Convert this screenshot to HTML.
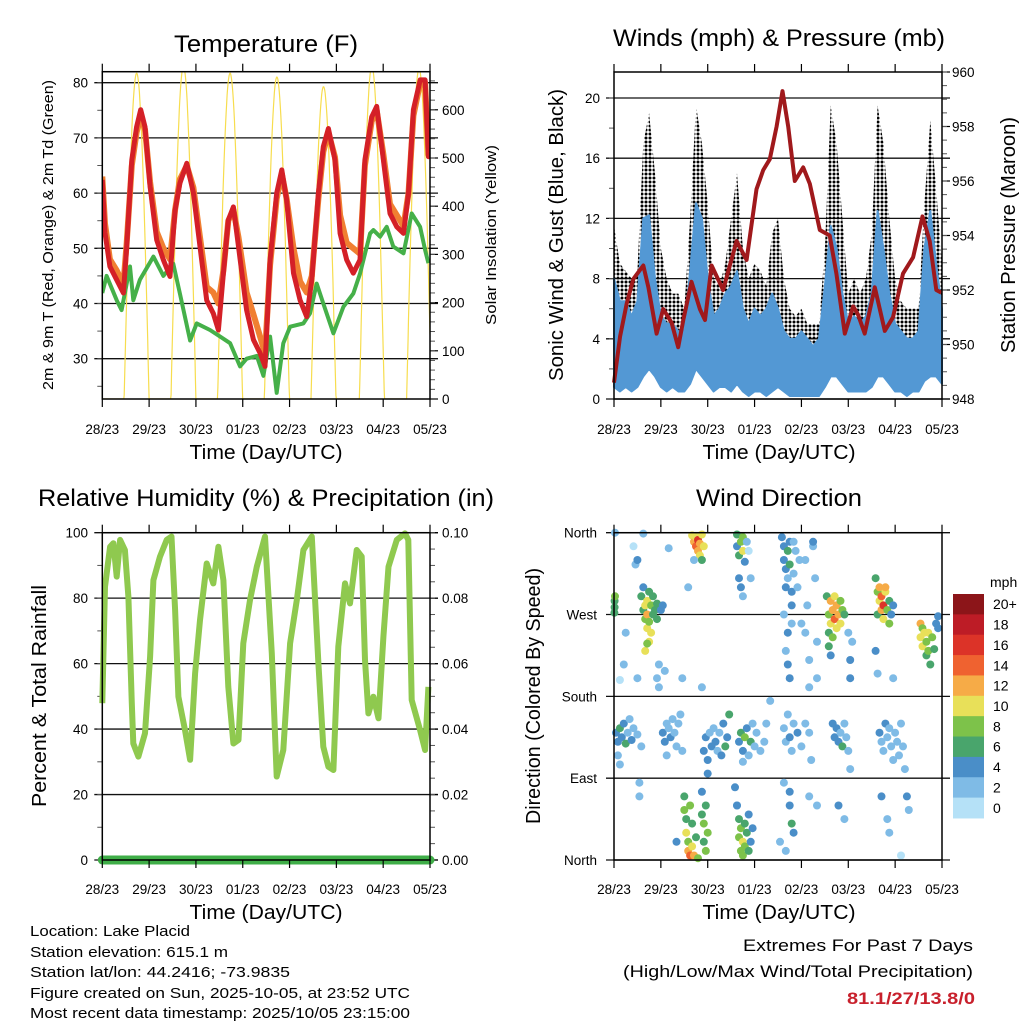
<!DOCTYPE html>
<html><head><meta charset="utf-8"><style>
html,body{margin:0;padding:0;background:#fff;}
svg{display:block;font-family:"Liberation Sans",sans-serif;}
</style></head><body>
<svg id="chart" width="1024" height="1024" viewBox="0 0 1024 1024" xmlns="http://www.w3.org/2000/svg">
<defs>
<pattern id="dots" width="4" height="4" patternUnits="userSpaceOnUse"><circle cx="2" cy="2" r="1.5" fill="#000"/></pattern>
</defs>
<rect x="0" y="0" width="1024" height="1024" fill="#fff"/>
<g font-size="24" text-anchor="middle">
<text x="266" y="52" textLength="184" lengthAdjust="spacingAndGlyphs">Temperature (F)</text>
<text x="779" y="46" textLength="332" lengthAdjust="spacingAndGlyphs">Winds (mph) &amp; Pressure (mb)</text>
<text x="266" y="506" textLength="456" lengthAdjust="spacingAndGlyphs">Relative Humidity (%) &amp; Precipitation (in)</text>
<text x="779" y="506" textLength="166" lengthAdjust="spacingAndGlyphs">Wind Direction</text>
</g>
<g font-size="20" text-anchor="middle">
<text x="266" y="459" textLength="153" lengthAdjust="spacingAndGlyphs">Time (Day/UTC)</text>
<text x="779" y="459" textLength="153" lengthAdjust="spacingAndGlyphs">Time (Day/UTC)</text>
<text x="266" y="919" textLength="153" lengthAdjust="spacingAndGlyphs">Time (Day/UTC)</text>
<text x="779" y="919" textLength="153" lengthAdjust="spacingAndGlyphs">Time (Day/UTC)</text>
<text transform="translate(563,235) rotate(-90)" textLength="292" lengthAdjust="spacingAndGlyphs">Sonic Wind &amp; Gust (Blue, Black)</text>
<text transform="translate(1015,235) rotate(-90)" textLength="236" lengthAdjust="spacingAndGlyphs">Station Pressure (Maroon)</text>
<text transform="translate(46,696) rotate(-90)" textLength="222" lengthAdjust="spacingAndGlyphs">Percent &amp; Total Rainfall</text>
<text transform="translate(540,696) rotate(-90)" textLength="256" lengthAdjust="spacingAndGlyphs">Direction (Colored By Speed)</text>
</g>
<g font-size="15" text-anchor="middle">
<text transform="translate(53,235) rotate(-90)" textLength="310" lengthAdjust="spacingAndGlyphs">2m &amp; 9m T (Red, Orange) &amp; 2m Td (Green)</text>
<text transform="translate(496,235) rotate(-90)" textLength="180" lengthAdjust="spacingAndGlyphs">Solar Insolation (Yellow)</text>
</g>
<g font-size="15">
<text x="30" y="936" textLength="160" lengthAdjust="spacingAndGlyphs">Location: Lake Placid</text>
<text x="30" y="957" textLength="198" lengthAdjust="spacingAndGlyphs">Station elevation: 615.1 m</text>
<text x="30" y="977" textLength="260" lengthAdjust="spacingAndGlyphs">Station lat/lon: 44.2416; -73.9835</text>
<text x="30" y="998" textLength="380" lengthAdjust="spacingAndGlyphs">Figure created on Sun, 2025-10-05, at 23:52 UTC</text>
<text x="30" y="1018" textLength="380" lengthAdjust="spacingAndGlyphs">Most recent data timestamp: 2025/10/05 23:15:00</text>
</g>
<g font-size="17" text-anchor="end">
<text x="973" y="951" textLength="230" lengthAdjust="spacingAndGlyphs">Extremes For Past 7 Days</text>
<text x="973" y="977" textLength="350" lengthAdjust="spacingAndGlyphs">(High/Low/Max Wind/Total Precipitation)</text>
<text x="975" y="1004" fill="#c8202c" font-weight="bold" textLength="128" lengthAdjust="spacingAndGlyphs">81.1/27/13.8/0</text>
</g>
</svg>
<script>
// ---------- data ----------
const dayLabels=['28/23','29/23','30/23','01/23','02/23','03/23','04/23','05/23'];
const tempHours=[0,1.4,3.9,7.4,10.8,12.5,15.1,17.6,19.7,21.9,24.5,27.9,31.3,34.7,37.3,39.8,43.3,46.7,50.1,53.5,56.9,59.5,62.1,64.6,67.2,69.8,74,77.5,80.9,83.4,86,89.4,92,94.5,98,101.4,104.8,107.4,110.8,113.3,115.9,119.3,121.9,125.3,128.7,132.1,134.6,138.1,140.7,144.1,147.5,151,154.4,157,159.5,163,165.5,167.2,168];
const temp2m=[62.4,52.8,46.7,44.3,41.9,50.3,66,72,75.1,72,61.2,51.5,47.9,44.9,56.9,61.8,65.4,60,50.3,40.6,38.2,35.2,45.5,55.1,57.5,50.3,38.8,33.4,31,28.6,47.9,60,64.2,58.8,45.5,40.6,37.6,44.3,60,68.4,71.7,66,52.7,47.9,45.5,47.9,66,73.8,75.7,66,56.3,53.9,52.7,60,75.1,80.5,80.5,66.6,67];
const temp9m=[63,54.5,48,46,43.5,51,65,71,74,71.5,62,53,50,48,57,62.5,65,61,52,43,42,40,46,55,57,52,42,38,34,31,47,59,63.5,59,50,44,42,45,59,67.5,71,66.5,56,51,50,49,65,73,75,67,58,56,54,60,74,80,80,67,68];
const dewHours=[0,2.2,7.4,9.9,14.2,15.9,19.3,26.2,31.3,36.4,39.8,45,48.4,55.2,60.4,65.5,70.6,74,79.2,82.6,86,89.4,92.8,96.3,103.1,106.5,109.9,113.3,118.5,123.6,128.7,132.1,137.3,139,142.4,145.8,149.2,154.4,158.6,162.9,165.5,167.2];
const dewPoint=[41.9,45,40.6,38.8,46.7,40.6,44.3,48.5,45,47.2,41.8,33.3,36.4,35.2,34,32.8,28.6,30,30.5,26.9,34,23.8,32.8,35.8,36.4,38.2,43.6,40,34.6,39.4,41.8,45.4,52.7,53.3,52.1,53.9,50.3,49.1,56.3,53.9,49.7,47.3];
const solarPeakHour=[17.6,41.6,65.5,89.5,113.4,138.2,162.4];
const solarPeak=[676,690,676,668,648,690,685];
const windHours=[0,3,6,9,12,15,18,21,24,27,30,33,36,39,42,45,48,51,54,57,60,63,66,69,72,75,78,81,84,87,90,93,96,99,102,105,108,111,114,117,120,123,126,129,132,135,138,141,144,147,150,153,156,159,162,165,168];
const gustMax=[11.5,9,8.5,8,8.5,17,19,15,10,8,7,7,6,12,19.5,17,13,8,7.5,9,12,15,10,8,9,8.5,7.5,11,12,8,6,5.5,6,5,5,5,10,19.5,17,12,7,8,7,8,11,19.5,17,12,8,6.5,6,6,6,13,18.5,14,9];
const windMax=[8,6.5,6.5,5.5,6.5,12,12.2,8,5.5,5,5,4.5,4.5,8.5,13,12,8,5.5,6,7,7.5,8.5,6,5,6,5.5,6,7,6,4.5,4,4,4.5,4,3.5,4,7.5,11.5,10,7,5,5.5,5,5.5,7,12.5,10,7,5,4.5,4,4,4.5,10,12.5,9,6];
const windMin=[0.8,0.5,0.8,0.5,0.8,1.5,2,1.5,0.8,0.5,0.8,0.5,0.5,1,2,1.5,1,0.5,0.8,0.8,0.5,1,0.5,0.2,0.5,0.5,0.2,0.5,0.8,0.5,0.2,0.2,0.2,0.2,0.2,0.2,0.8,1.5,1.5,1,0.5,0.5,0.5,0.5,0.8,1.5,1.5,1,0.5,0.5,0.2,0.5,0.5,1.2,1.5,1.5,1];
const presHours=[0,3.1,6.5,9.9,15,17.6,21.8,25.2,29.5,32.9,35.5,39.7,44,46.6,50,55.9,62.8,67.9,73,76.4,79.8,83.3,86.3,89.2,92.6,96.9,100.3,105.4,110.5,113.9,118.2,122.5,125,128.4,133.6,138.7,142.9,148,153.2,158,161.7,165.1,167.7];
const pressure=[948.6,950.3,951.5,952.4,952.9,952.1,950.4,951.3,950.8,949.9,950.9,952.3,951.3,950.9,952.9,952,953.8,953.1,955.7,956.4,956.8,958,959.3,958,956,956.5,955.9,954.2,954,952.6,950.4,951.4,951.1,950.4,952.1,950.5,951,952.6,953.2,954.7,953.8,952,951.9];
const rhHours=[0,1.4,4,5.7,7.4,9.1,11.6,13.4,15.1,15.9,18.5,21.9,24.5,26.2,29.6,33,35.5,37.3,39,42.4,45,47.6,50.1,53.5,56.9,59.5,62.1,64.6,67.2,69.8,72.3,75.7,79.2,83.4,86.9,89.4,92.8,96.3,99.7,103.1,107.4,110.8,113.3,115.9,118.5,121,124.4,127,130.4,133,134.7,136.4,139,141.6,144.1,146.7,151,155.2,156.9,158.6,162.9,165.5,167.2];
const relHumidity=[47.9,83.5,95.7,96.8,86.6,97.8,94.7,80.4,47.9,35.6,31.6,38.7,62.1,85.5,92.7,97.8,98.8,76.4,49.9,39.7,30.6,57,73.3,90.6,84.5,95.7,85.5,52.9,35.6,36.7,66.2,79.4,89.6,98.8,63.1,25.5,33.6,66.2,79.4,94.7,98.8,60.1,34.6,28.5,27.5,65.2,84.5,78.4,94.7,92.7,61.1,44.8,49.9,43.3,68.2,89.6,97.8,99.8,97.8,48.9,39.7,33.6,52.9];
const precipHours=[0,168];
const precipTotal=[0,0];
const dirHours=[
0.3,0.3,0.5,0.2,
10,11,12,15,28,6,
14,15,15,16,16,17,17,17,18,18,18,19,19,20,20,21,22,22,24,25,16,17,
22,23,23,35,45,12,5,3,26,80,100,0.5,
40,41,42,42,43,43,44,44,45,45,46,41,38,
63,63,64,65,66,66,67,68,64,65,66,69,70,
86,87,87,88,88,89,89,90,90,91,91,92,92,93,94,95,88,89,89,90,91,87,96,98,98,99,100,102,103,104,104,102,
109,110,110,111,111,112,112,113,113,114,114,115,116,116,117,118,110,111,120,121,121,122,
134,135,135,136,136,137,137,138,138,139,139,140,141,141,142,143,134,135,143,
157,157,158,158,159,160,160,161,161,162,163,164,165,166,166,
1,2,3,4,5,6,7,8,9,10,12,14,2,3,
25,26,27,28,29,30,31,32,33,34,27,35,
46,47,48,49,50,51,52,53,54,55,56,57,58,59,48,
64,65,66,67,68,69,70,71,72,73,75,77,78,66,
87,88,89,90,91,92,94,96,98,100,101,
112,113,114,115,116,117,118,119,120,121,
136,137,138,139,140,141,142,143,144,145,146,147,148,149,
13,13,32,62,63,87,90,90,91,92,100,104,115,118,137,140,141,150,151,147,85,88,
36,36,37,37,38,38,39,39,40,40,41,42,43,45,46,46,47,47,48,45,
63,64,64,65,65,66,66,67,67,68,69,69,70,71];
const dirDegrees=[
285,278,290,272,
345,325,330,359,343,250,
290,275,300,265,280,270,285,255,295,262,240,280,250,290,270,275,282,265,275,280,230,238,
200,190,215,200,190,200,215,198,208,175,190,360,
357,350,345,355,340,352,335,348,358,330,345,330,300,
358,345,335,350,340,355,328,350,310,300,290,340,310,
355,345,330,320,300,340,310,350,325,295,280,350,315,340,300,330,230,250,215,200,260,270,260,250,330,280,220,345,310,240,200,350,
290,270,250,285,260,275,245,290,265,280,255,270,285,260,275,270,235,225,250,220,200,240,
310,295,270,285,300,275,290,280,265,295,300,275,285,260,270,280,230,205,200,
260,245,255,235,250,240,225,250,230,215,245,232,260,268,255,
140,130,145,135,150,128,140,155,132,145,138,125,115,105,
140,130,150,145,135,155,140,125,150,160,115,120,
120,135,110,140,125,145,130,120,140,115,150,125,135,160,95,
130,140,120,135,145,115,130,150,125,140,120,130,150,108,
145,130,160,135,120,150,140,125,150,140,110,
150,135,145,130,140,125,150,135,120,100,
140,130,120,150,135,145,125,110,140,130,115,150,125,100,
85,70,20,80,60,85,75,60,40,30,70,60,60,45,70,45,30,70,55,5,20,10,
70,55,45,30,20,10,5,60,40,15,5,25,2,50,40,20,10,60,30,75,
60,45,25,35,10,20,5,40,15,30,50,10,20,35];
const dirSpeed=[
7,6,8,7,
1,3,4,2,2,2,
6,7,5,9,10,12,10,11,6,9,10,8,11,7,6,7,6,6,5,4,10,9,
3,2,3,2,2,2,2,1,2,2,2,2,
10,12,14,10,12,16,10,12,10,6,10,2,2,
6,4,7,8,10,8,4,2,4,4,2,1,2,
4,4,4,5,4,6,3,4,6,4,4,2,2,2,2,2,2,4,4,4,3,3,2,3,2,2,2,2,2,2,2,4,
6,8,6,12,10,12,8,10,14,12,10,12,8,10,8,6,6,4,3,4,4,2,
6,8,6,10,12,12,14,16,10,10,12,8,6,8,4,4,4,2,2,
12,10,8,10,10,8,6,10,8,6,8,6,4,4,4,
4,4,6,5,4,6,3,2,4,2,3,2,2,3,
4,4,3,2,4,2,2,2,3,2,2,2,
4,4,4,3,4,2,4,3,2,4,4,6,4,6,4,
4,6,4,8,4,2,6,3,2,2,2,3,2,2,
2,3,2,4,3,3,4,2,2,3,2,
4,4,4,4,3,7,2,2,2,3,
4,3,2,4,3,2,2,2,2,2,2,2,2,2,
2,2,4,4,2,2,4,4,6,4,2,2,4,2,4,3,2,4,2,1,2,2,
6,8,6,10,8,12,14,8,6,10,12,6,8,6,8,6,8,6,8,4,
4,6,8,8,8,10,8,6,8,6,4,6,4,4];
const speedBinLabels=['0','2','4','6','8','10','12','14','16','18','20+'];
const speedBinColors=['#b5e1f7','#7fbbe6','#4a8ec8','#49a56c','#7dc24a','#e8e059','#f6ab47','#ef6230','#dc3328','#bd1c26','#8c1519'];

// ---------- helpers ----------
const NS='http://www.w3.org/2000/svg';
const svg=document.getElementById('chart');
function mk(tag,attrs,name,parent){
  const e=document.createElementNS(NS,tag);
  for(const k in attrs) e.setAttribute(k,attrs[k]);
  
  
  (parent||svg).appendChild(e);
  return e;
}
function txt(x,y,s,anchor,size,name){
  const t=mk('text',{x:x,y:y,'text-anchor':anchor,'font-size':size},name);
  t.textContent=s; return t;
}
function pts(xs,ys,fx,fy){return xs.map((h,i)=>fx(h).toFixed(1)+','+fy(ys[i]).toFixed(1)).join(' ');}

const P1={x0:102.3,x1:430,y0:71.7,y1:399};
const P2={x0:614,x1:942,y0:72,y1:399};
const P3={x0:102.3,x1:430,y0:532.7,y1:860};
const P4={x0:614,x1:942,y0:532.7,y1:860};
function tx(P){return h=>P.x0+h/168*(P.x1-P.x0);}

function frame(P,pfx,labelY){
  const fx=tx(P);
  for(let d=0;d<8;d++){
    const x=fx(d*24);
    mk('line',{x1:x,y1:P.y1,x2:x,y2:P.y1+8,stroke:'#000','stroke-width':1.2},pfx+'-x-tick');
    mk('line',{x1:x,y1:P.y0,x2:x,y2:P.y0-8,stroke:'#000','stroke-width':1.2},pfx+'-top-tick');
    txt(x,labelY,dayLabels[d],'middle',13.5,pfx+'-x-tick-label');
  }
}
function yAxis(P,pfx,side,vals,fy,labels,minorVals,grid,labelX,anchor){
  const xe= side==='left'?P.x0:P.x1, dir= side==='left'?-1:1;
  vals.forEach((v,i)=>{
    const y=fy(v);
    if(grid) mk('line',{x1:P.x0-8,y1:y,x2:P.x1+8,y2:y,stroke:'#111','stroke-width':1.3},pfx+'-gridline');
    else mk('line',{x1:xe,y1:y,x2:xe+dir*8,y2:y,stroke:'#000','stroke-width':1.2},pfx+'-'+side+'-tick');
    txt(labelX,y+5,labels[i],anchor,13.5,pfx+'-'+side+'-tick-label');
  });
  minorVals.forEach(v=>{const y=fy(v);
    mk('line',{x1:xe,y1:y,x2:xe+dir*5,y2:y,stroke:'#555','stroke-width':1},pfx+'-'+side+'-minor-tick');});
}
function border(P,name){mk('rect',{x:P.x0,y:P.y0,width:P.x1-P.x0,height:P.y1-P.y0,fill:'none',stroke:'#000','stroke-width':1.5},name);}
function range(a,b,s){const r=[];for(let v=a;v<=b+1e-9;v+=s)r.push(+v.toFixed(4));return r;}

// ---------- panel 1: temperature ----------
(function(){
  const fx=tx(P1), fy=T=>82.7+(80-T)*5.52, fs=W=>399-W*0.482;
  const clip=mk('clipPath',{id:'c1'},'temp-clip');
  mk('rect',{x:P1.x0,y:P1.y0,width:P1.x1-P1.x0,height:P1.y1-P1.y0},'temp-clip-rect',clip);
  yAxis(P1,'temp','left',[30,40,50,60,70,80],fy,['30','40','50','60','70','80'],range(25,80,5),true,88,'end');
  yAxis(P1,'solar','right',[0,100,200,300,400,500,600],fs,['0','100','200','300','400','500','600'],range(20,660,20),false,442,'start');
  const sh=[],sv=[];
  for(let h=0;h<=168;h+=0.25){
    let w=0;
    solarPeakHour.forEach((pk,i)=>{const d=(h-pk)/6.4; if(Math.abs(d)<1) w=solarPeak[i]*Math.cos(d*Math.PI/2);});
    sh.push(h); sv.push(w);
  }
  mk('polyline',{points:pts(sh,sv,fx,fs),fill:'none',stroke:'#f7dd4e','stroke-width':1.2,'clip-path':'url(#c1)'},'solar-insolation-line');
  mk('polyline',{points:pts(dewHours,dewPoint,fx,fy),fill:'none',stroke:'#45b049','stroke-width':4,'stroke-linejoin':'round','clip-path':'url(#c1)'},'dewpoint-2m-line');
  mk('polyline',{points:pts(tempHours,temp9m,fx,fy),fill:'none',stroke:'#f07f31','stroke-width':6,'stroke-linejoin':'round','clip-path':'url(#c1)'},'temperature-9m-line');
  mk('polyline',{points:pts(tempHours,temp2m,fx,fy),fill:'none',stroke:'#d42027','stroke-width':5,'stroke-linejoin':'round','clip-path':'url(#c1)'},'temperature-2m-line');
  border(P1,'temp-plot-border');
  frame(P1,'temp',434);
})();

// ---------- panel 2: winds & pressure ----------
(function(){
  const fx=tx(P2), fw=m=>399-m*15.05, fp=p=>399-(p-948)*27.25;
  yAxis(P2,'wind','left',[0,4,8,12,16,20],fw,['0','4','8','12','16','20'],range(2,20,2),true,600,'end');
  yAxis(P2,'pressure','right',[948,950,952,954,956,958,960],fp,['948','950','952','954','956','958','960'],range(948.5,960,0.5),false,952,'start');
  const n=windHours.length;
  const gustPoly=windHours.map((h,i)=>fx(h).toFixed(1)+','+fw(gustMax[i]).toFixed(1)).concat(windHours.map((h,i)=>fx(windHours[n-1-i]).toFixed(1)+','+fw(windMax[n-1-i]*0.7).toFixed(1))).join(' ');
  mk('polygon',{points:gustPoly,fill:'url(#dots)',stroke:'none'},'gust-scatter-area');
  const windPoly=windHours.map((h,i)=>fx(h).toFixed(1)+','+fw(windMax[i]).toFixed(1)).concat(windHours.map((h,i)=>fx(windHours[n-1-i]).toFixed(1)+','+fw(windMin[n-1-i]).toFixed(1))).join(' ');
  mk('polygon',{points:windPoly,fill:'#5398d4',stroke:'#5398d4','stroke-width':2,'stroke-linejoin':'round'},'sonic-wind-area');
  mk('polyline',{points:pts(presHours,pressure,fx,fp),fill:'none',stroke:'#a0191c','stroke-width':4,'stroke-linejoin':'round'},'station-pressure-line');
  border(P2,'winds-plot-border');
  frame(P2,'winds',434);
})();

// ---------- panel 3: humidity & precipitation ----------
(function(){
  const fx=tx(P3), fr=r=>860-r*3.273, fpr=p=>860-p*3273;
  yAxis(P3,'rh','left',[0,20,40,60,80,100],fr,['0','20','40','60','80','100'],range(10,90,10),true,88,'end');
  yAxis(P3,'precip','right',[0,0.02,0.04,0.06,0.08,0.1],fpr,['0.00','0.02','0.04','0.06','0.08','0.10'],range(0.005,0.1,0.005),false,442,'start');
  mk('polyline',{points:pts(rhHours,relHumidity,fx,fr),fill:'none',stroke:'#8fc94f','stroke-width':6,'stroke-linejoin':'round'},'relative-humidity-line');
  mk('polyline',{points:pts(precipHours,precipTotal,fx,fpr),fill:'none',stroke:'#3fae48','stroke-width':9,'stroke-linecap':'round'},'total-precipitation-line');
  border(P3,'humidity-plot-border');
  frame(P3,'humidity',894);
})();

// ---------- panel 4: wind direction ----------
(function(){
  const fx=tx(P4), fd=d=>860-d/360*327.3;
  yAxis(P4,'direction','left',[0,90,180,270,360],fd,['North','East','South','West','North'],[],true,597,'end');
  dirHours.forEach((h,i)=>{
    const b=Math.min(10,Math.floor(dirSpeed[i]/2));
    mk('circle',{cx:fx(h).toFixed(1),cy:fd(dirDegrees[i]).toFixed(1),r:4,fill:speedBinColors[b]},'direction-point');
  });
  border(P4,'direction-plot-border');
  frame(P4,'direction',894);
  const bx=953,by=594,bh=20.36;
  txt(990,587,'mph','start',14,'colorbar-title');
  for(let k=0;k<11;k++){
    const idx=10-k, y=by+k*bh;
    mk('rect',{x:bx,y:y,width:31,height:bh+0.5,fill:speedBinColors[idx]},'colorbar-box');
    txt(993,y+bh/2+5,speedBinLabels[idx],'start',14,'colorbar-label');
  }
})();
</script>
</body></html>
